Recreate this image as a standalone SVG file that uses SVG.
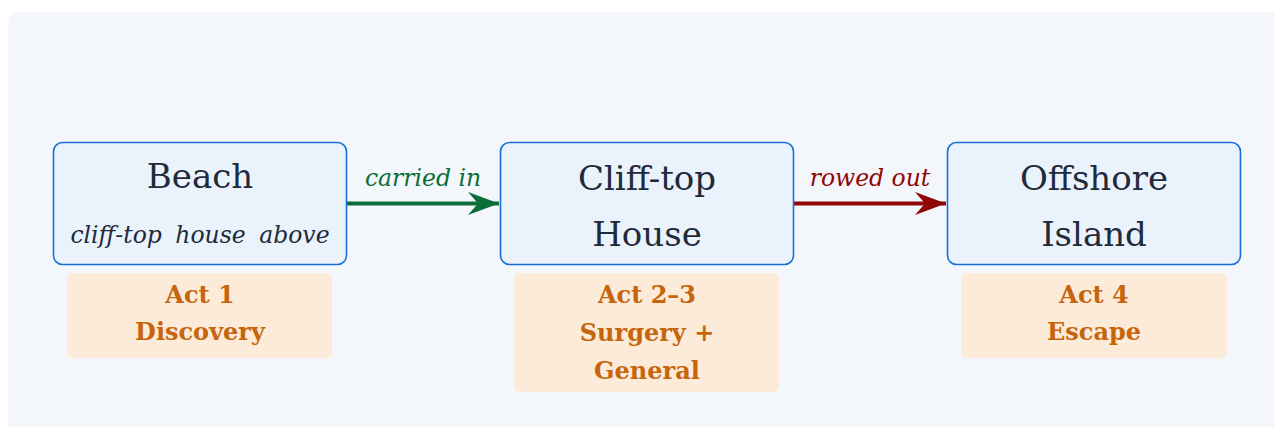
<svg xmlns="http://www.w3.org/2000/svg" width="1274" height="427" viewBox="0 0 1274 427">
<style>
.bg{fill:#f3f7fc}
.node{fill:#eaf3fc;stroke:#1a6fd6;stroke-width:1.6}
.tag{fill:#fdebd9}
.title{font-family:"DejaVu Serif","Liberation Serif",serif;font-size:34px;fill:#1f2a3a;text-anchor:middle}
.sub{font-family:"DejaVu Serif","Liberation Serif",serif;font-style:italic;font-size:23.5px;fill:#1f2a3a;text-anchor:middle;word-spacing:6px}
.act{font-family:"DejaVu Serif","Liberation Serif",serif;font-weight:bold;font-size:24px;fill:#c7650c;text-anchor:middle}
.elab{font-family:"DejaVu Serif","Liberation Serif",serif;font-style:italic;font-size:23.5px;text-anchor:middle}
</style>
<defs>
<marker id="ahg" markerUnits="userSpaceOnUse" markerWidth="34" markerHeight="26" refX="32" refY="12" orient="auto">
<path d="M1,0.5 L32,12 L1,23.5 L11,12 Z" fill="#0b6e38"/>
</marker>
<marker id="ahr" markerUnits="userSpaceOnUse" markerWidth="34" markerHeight="26" refX="32" refY="12" orient="auto">
<path d="M1,0.5 L32,12 L1,23.5 L11,12 Z" fill="#8f0707"/>
</marker>
</defs>
<rect class="bg" x="8" y="12" width="1280" height="430" rx="10"/>
<g id="connectors">
<line x1="347" y1="203.5" x2="499" y2="203.5" stroke="#0b6e38" stroke-width="4" marker-end="url(#ahg)"/>
<text class="elab" x="423" y="186" fill="#0b6e38">carried in</text>
<line x1="794" y1="203.5" x2="946" y2="203.5" stroke="#8f0707" stroke-width="4" marker-end="url(#ahr)"/>
<text class="elab" x="870" y="186" fill="#8f0707">rowed out</text>
</g>
<g id="beach">
<rect class="node" x="53.5" y="142.5" width="293" height="122" rx="9"/>
<text class="title" x="200" y="188">Beach</text>
<text class="sub" x="200" y="243">cliff-top house above</text>
</g>
<g id="beach-act">
<rect class="tag" x="67" y="273" width="265" height="85" rx="6"/>
<text class="act" x="200" y="303">Act 1</text>
<text class="act" x="200" y="340">Discovery</text>
</g>
<g id="clifftop-house">
<rect class="node" x="500.5" y="142.5" width="293" height="122" rx="9"/>
<text class="title" x="647" y="190">Cliff-top</text>
<text class="title" x="647" y="246">House</text>
</g>
<g id="clifftop-act">
<rect class="tag" x="514" y="273" width="265" height="119" rx="6"/>
<text class="act" x="647" y="303">Act 2–3</text>
<text class="act" x="647" y="341">Surgery +</text>
<text class="act" x="647" y="379">General</text>
</g>
<g id="offshore-island">
<rect class="node" x="947.5" y="142.5" width="293" height="122" rx="9"/>
<text class="title" x="1094" y="190">Offshore</text>
<text class="title" x="1094" y="246">Island</text>
</g>
<g id="offshore-act">
<rect class="tag" x="961" y="273" width="266" height="85" rx="6"/>
<text class="act" x="1094" y="303">Act 4</text>
<text class="act" x="1094" y="340">Escape</text>
</g>
</svg>
